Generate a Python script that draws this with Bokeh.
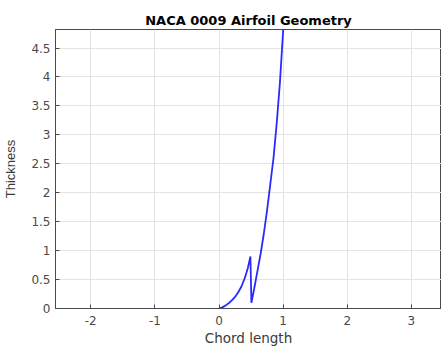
from bokeh.plotting import figure
from bokeh.embed import file_html
from bokeh.resources import INLINE
from bokeh.models import Range1d, FixedTicker, Title

# Data (one continuous polyline)
x_vals = [0.0, 0.05, 0.1, 0.15, 0.2, 0.25, 0.3, 0.35, 0.4, 0.45, 0.49,
          0.505, 0.55, 0.6, 0.65, 0.7, 0.75, 0.8, 0.85, 0.9, 0.95, 1.0, 1.02]
y_vals = [0.0, 0.02, 0.05, 0.09, 0.14, 0.2, 0.28, 0.38, 0.52, 0.7, 0.9,
          0.1, 0.35, 0.65, 0.95, 1.3, 1.7, 2.15, 2.6, 3.2, 3.9, 4.8, 5.2]

x_ticks = [-2, -1, 0, 1, 2, 3]
y_ticks = [0, 0.5, 1, 1.5, 2, 2.5, 3, 3.5, 4, 4.5]

title_text = "NACA 0009 Airfoil Geometry"
x_label = "Chord length"
y_label = "Thickness"

p = figure(frame_width=386, frame_height=279, output_backend="svg",
           toolbar_location=None, title=" ",
           x_range=Range1d(-2.55, 3.47), y_range=Range1d(0, 4.82),
           min_border_left=0, min_border_right=0, min_border_bottom=0,
           min_border_top=0)

p.line(x_vals, y_vals, line_color="#2a2aff", line_width=1.8)

# outer blank spacer (figure's own title slot)
p.title.text_font_size = "7px"
p.title.standoff = 0

# real title, placed next to the frame
main_title = Title(text=title_text, align="center", text_font="DejaVu Sans",
                   text_font_size="13px", text_font_style="bold",
                   text_color="#000000", standoff=2.5)
p.add_layout(main_title, "above")

axis_color = "#4a4a4a"
for ax in (p.xaxis[0], p.yaxis[0]):
    ax.axis_line_color = axis_color
    ax.major_tick_line_color = axis_color
    ax.major_tick_in = 4
    ax.major_tick_out = 0
    ax.minor_tick_line_color = None
    ax.major_label_text_font = "DejaVu Sans"
    ax.major_label_text_font_size = "12px"
    ax.major_label_text_color = "#4a4a4a"
    ax.axis_label_text_font_style = "normal"
    ax.axis_label_text_color = "#3a3a3a"

p.xaxis.axis_label_text_font = "DejaVu Sans"
p.xaxis.axis_label_text_font_size = "13.5px"
p.yaxis.axis_label_text_font = "Liberation Sans"
p.yaxis.axis_label_text_font_size = "13px"

p.xaxis.ticker = FixedTicker(ticks=x_ticks)
p.yaxis.ticker = FixedTicker(ticks=y_ticks)
p.xaxis.major_label_overrides = {t: f"{t:g}" for t in x_ticks}
p.yaxis.major_label_overrides = {t: f"{t:g}" for t in y_ticks}
p.xaxis.axis_label = x_label
p.yaxis.axis_label = y_label
p.xaxis.major_label_standoff = 7
p.xaxis.axis_label_standoff = 2
p.yaxis.major_label_standoff = 5
p.yaxis.axis_label_standoff = 10

p.xgrid.grid_line_color = "#e3e3e3"
p.ygrid.grid_line_color = "#e3e3e3"
p.xgrid.ticker = FixedTicker(ticks=x_ticks)
p.ygrid.ticker = FixedTicker(ticks=y_ticks)

p.outline_line_color = axis_color
p.background_fill_color = "white"
p.border_fill_color = "white"

open("out.html", "w").write(file_html(p, INLINE))
